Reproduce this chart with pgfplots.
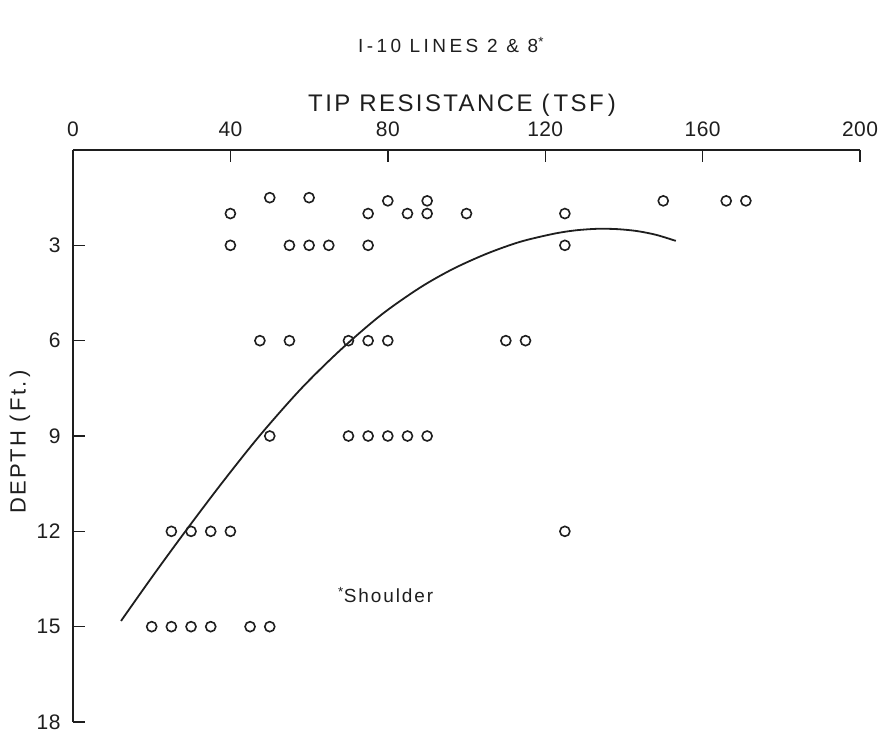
\documentclass[border=0pt]{standalone}
\usepackage{fontspec}
\setmainfont{Liberation Sans}
\newfontfamily\lett[LetterSpace=10]{Liberation Sans}
\newfontfamily\letttitle[LetterSpace=18]{Liberation Sans}
\newfontfamily\lettnum[LetterSpace=2]{Liberation Sans}
\usepackage{pgfplots}
\pgfplotsset{compat=1.18}
\definecolor{ink}{HTML}{1E1E1E}
\begin{document}
\begin{tikzpicture}
\begin{axis}[
  name=ax,
  scale only axis, width=787pt, height=572pt,
  xmin=0, xmax=200, ymin=0, ymax=18, y dir=reverse,
  axis x line=top, axis y line=left,
  axis line style={-, line width=1.4pt, ink},
  xtick={0,40,...,200}, ytick={3,6,...,18},
  tick align=inside, major tick length=12pt,
  tick style={line width=1.4pt, ink},
  /pgf/number format/assume math mode=true,
  xticklabel style={font=\fontsize{21}{21}\selectfont\lettnum, text=ink, yshift=10pt},
  yticklabel style={font=\fontsize{21}{21}\selectfont\lettnum, text=ink, xshift=-9pt},
  clip=false,
]
\addplot[smooth, line width=1.8pt, ink] coordinates {
  (12.2,14.82) (20.3,13.40) (28.5,12.01) (37.9,10.47) (47.5,8.98) (57.9,7.52)
  (67.9,6.30) (78.3,5.19) (88.2,4.33) (96.6,3.74) (105.2,3.26) (113.6,2.89)
  (122.0,2.64) (127.6,2.53) (133.2,2.48) (138.3,2.49) (143.3,2.55) (148.2,2.67)
  (153.2,2.86)
};
\addplot[only marks, mark=o, mark size=5pt, mark options={line width=1.6pt, ink}] coordinates {
  (50,1.5) (60,1.5) (80,1.6) (90,1.6) (150,1.6) (166,1.6) (171,1.6)
  (40,2) (75,2) (85,2) (90,2) (100,2) (125,2)
  (40,3) (55,3) (60,3) (65,3) (75,3) (125,3)
  (47.5,6) (55,6) (70,6) (75,6) (80,6) (110,6) (115,6)
  (50,9) (70,9) (75,9) (80,9) (85,9) (90,9)
  (25,12) (30,12) (35,12) (40,12) (125,12)
  (20,15) (25,15) (30,15) (35,15) (45,15) (50,15)
};
\node[anchor=base west, font=\fontsize{19}{19}\selectfont\lett, text=ink] at (axis cs:66.5,14.25) {\textsuperscript{*}Shoulder};
\end{axis}
\node[font=\fontsize{19}{19}\selectfont\letttitle, text=ink] at ([xshift=378pt,yshift=105pt]ax.north west) {I-10 LINES 2 \& 8\textsuperscript{*}};
\node[font=\fontsize{24}{24}\selectfont\lett, text=ink] at ([xshift=389pt,yshift=45pt]ax.north west) {TIP RESISTANCE (\,TSF\,)};
\node[rotate=90, font=\fontsize{22}{22}\selectfont\lett, text=ink] at ([xshift=-53pt,yshift=-292pt]ax.north west) {DEPTH (\,Ft.\,)};
\pgfresetboundingbox
\path[use as bounding box] ([xshift=-73pt,yshift=150pt]ax.north west) rectangle ([xshift=18pt,yshift=-12pt]ax.south east);
\end{tikzpicture}
\end{document}
